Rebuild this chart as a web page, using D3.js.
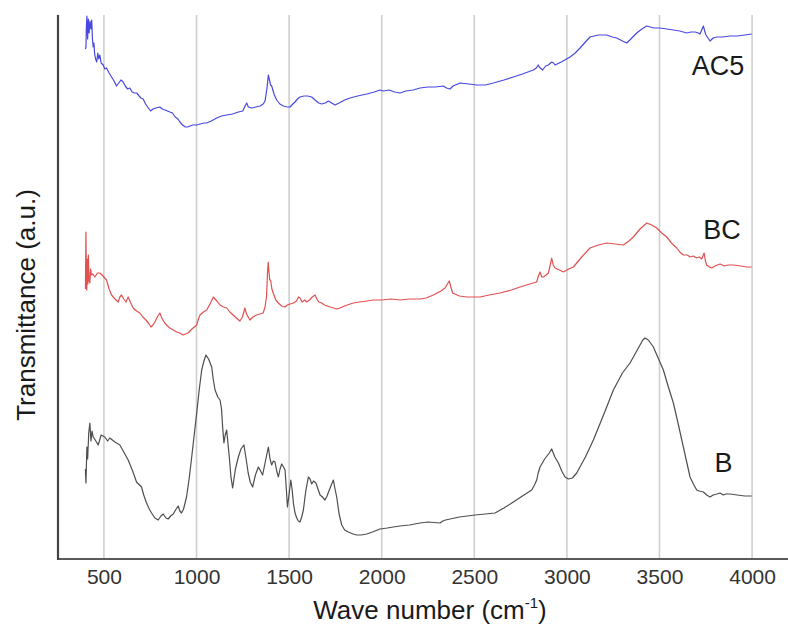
<!DOCTYPE html>
<html>
<head>
<meta charset="utf-8">
<script src="https://cdn.jsdelivr.net/npm/d3@7"></script>
<style>
  html, body { margin: 0; padding: 0; background: #ffffff; }
  svg { display: block; }
  text { font-family: "Liberation Sans", Arial, Helvetica, sans-serif; }
</style>
</head>
<body>
<svg id="chart" width="788" height="624"></svg>
<script>
// ---- data (wavenumber cm^-1, transmittance a.u.) ----
const seriesNames = ["AC5", "BC", "B"];
const seriesColors = ["#4848e0", "#e25050", "#4e4e4e"];
const tickValues = [500, 1000, 1500, 2000, 2500, 3000, 3500, 4000];

const AC5 = [[400,510],[403,512],[405,530],[408,543],[412,520],[416,540],[420,526],[425,538],[430,530],[434,539],[438,520],[442,512],[446,516],[450,505],[455,500],[461,497],[467,506],[472,500],[478,504],[485,496],[496,494],[505,490],[514,491],[528,486],[541,482],[555,478],[568,473],[580,476],[592,479],[604,477],[615,473],[628,470],[640,471],[652,467],[665,466],[677,466],[690,463],[700,461],[712,460],[725,455],[740,451],[752,448],[765,450],[780,451],[802,452],[815,450],[830,449],[843,448],[856,447],[870,446],[885,442],[900,440],[910,437],[925,434],[940,432],[952,432],[965,433],[980,434],[1001,434],[1020,435],[1040,436],[1055,436],[1080,438],[1109,441],[1135,443],[1163,444],[1195,445],[1226,447],[1250,448],[1262,453],[1271,456],[1280,452],[1298,451],[1320,452],[1343,453],[1360,455],[1370,458],[1380,470],[1388,484],[1395,478],[1400,474],[1406,473],[1420,464],[1433,459],[1450,455],[1469,453],[1490,452],[1505,452],[1520,455],[1532,457],[1545,460],[1559,462],[1580,463],[1600,463],[1622,462],[1640,459],[1660,456],[1676,455],[1695,456],[1712,458],[1730,456],[1748,454],[1770,456],[1800,459],[1829,461],[1870,463],[1919,465],[1960,467],[1991,469],[2009,468],[2040,469],[2070,467],[2099,466],[2130,468],[2170,469],[2207,471],[2250,472],[2290,472],[2333,473],[2350,471],[2369,470],[2385,473],[2423,476],[2470,475],[2513,474],[2560,474],[2603,476],[2660,479],[2711,482],[2760,485],[2819,489],[2835,491],[2845,494],[2851,492],[2869,489],[2885,493],[2900,494],[2918,497],[2928,496],[2936,494],[2970,497],[3017,502],[3045,506],[3071,511],[3100,517],[3125,522],[3170,524],[3215,524],[3245,522],[3269,521],[3300,518],[3323,516],[3340,519],[3377,526],[3405,530],[3431,533],[3470,531],[3503,531],[3540,530],[3575,529],[3610,528],[3647,526],[3670,527],[3692,527],[3710,526],[3719,525],[3730,530],[3737,533],[3744,528],[3751,524],[3762,521],[3773,518],[3790,521],[3809,522],[3840,522],[3881,523],[3920,523],[3960,524],[3998,525]];

const BC = [[400,270],[403,327],[405,285],[407,269],[410,300],[413,275],[416,304],[420,278],[424,276],[428,290],[433,284],[440,285],[451,282],[465,286],[478,286],[495,283],[514,279],[528,270],[541,264],[560,260],[577,257],[586,262],[595,264],[607,260],[619,257],[631,262],[645,256],[658,251],[676,248],[694,246],[710,242],[727,239],[740,236],[754,232],[765,234],[775,237],[788,242],[802,246],[815,240],[829,236],[843,233],[856,231],[875,229],[893,227],[910,226],[928,224],[940,225],[955,226],[975,230],[1001,234],[1010,240],[1019,244],[1037,247],[1055,249],[1073,255],[1091,262],[1110,258],[1127,254],[1145,252],[1163,251],[1180,247],[1198,244],[1215,241],[1234,238],[1248,242],[1261,251],[1270,245],[1288,239],[1305,242],[1324,244],[1342,245],[1360,246],[1370,252],[1378,262],[1383,285],[1387,297],[1391,288],[1395,279],[1400,279],[1407,270],[1414,266],[1428,259],[1442,256],[1460,253],[1478,252],[1490,254],[1505,255],[1523,256],[1540,258],[1551,262],[1559,261],[1570,257],[1585,259],[1595,257],[1610,259],[1625,262],[1640,264],[1650,260],[1660,257],[1676,256],[1690,254],[1705,253],[1721,252],[1740,251],[1758,250],[1775,251],[1800,253],[1830,255],[1847,256],[1880,257],[1920,258],[1955,259],[2000,259],[2050,260],[2100,259],[2150,260],[2207,260],[2240,261],[2279,264],[2320,268],[2342,271],[2358,276],[2365,278],[2372,273],[2383,266],[2420,263],[2459,262],[2500,262],[2531,262],[2580,264],[2639,266],[2700,269],[2747,272],[2800,275],[2837,277],[2846,283],[2855,287],[2864,282],[2873,282],[2888,284],[2900,286],[2910,294],[2918,301],[2926,294],[2936,291],[2960,289],[2981,287],[3010,290],[3035,292],[3080,302],[3125,311],[3170,314],[3215,316],[3260,315],[3305,314],[3335,318],[3359,322],[3395,330],[3431,336],[3458,334],[3485,331],[3512,326],[3539,322],[3565,316],[3593,311],[3610,307],[3629,304],[3650,304],[3665,302],[3683,303],[3700,301],[3715,302],[3728,300],[3741,306],[3748,298],[3755,294],[3770,292],[3782,291],[3800,293],[3827,295],[3850,293],[3870,294],[3899,294],[3940,293],[3970,292],[3998,292]];

const B = [[400,90],[403,76],[408,112],[412,100],[418,126],[424,136],[430,118],[436,128],[442,122],[450,120],[469,114],[485,124],[505,122],[520,118],[532,121],[559,117],[586,114],[610,106],[631,99],[655,88],[676,77],[703,72],[715,64],[730,56],[745,50],[757,46],[775,41],[793,39],[808,43],[820,45],[835,41],[847,40],[860,43],[874,45],[890,50],[901,53],[910,48],[919,46],[930,50],[946,62],[960,80],[974,102],[988,125],[1001,146],[1015,170],[1028,189],[1040,198],[1051,204],[1065,200],[1082,192],[1090,180],[1100,169],[1115,162],[1127,159],[1135,150],[1141,132],[1148,116],[1155,124],[1163,129],[1170,115],[1177,102],[1186,82],[1195,71],[1210,90],[1226,102],[1240,110],[1256,114],[1268,100],[1279,86],[1290,77],[1303,72],[1318,84],[1334,92],[1346,88],[1357,84],[1370,96],[1388,112],[1397,100],[1406,94],[1415,98],[1424,97],[1433,88],[1442,82],[1451,90],[1460,95],[1470,92],[1478,89],[1485,70],[1491,52],[1500,65],[1509,79],[1516,70],[1523,56],[1532,46],[1541,41],[1550,38],[1559,37],[1568,42],[1577,49],[1590,68],[1604,82],[1613,80],[1622,75],[1632,78],[1645,76],[1656,70],[1667,64],[1680,62],[1694,59],[1705,63],[1717,69],[1730,75],[1739,79],[1748,70],[1757,62],[1770,45],[1784,34],[1800,29],[1820,27],[1845,25],[1865,24],[1890,24],[1919,25],[1950,27],[1991,30],[2030,31],[2063,32],[2099,33],[2150,34],[2207,36],[2250,37],[2315,36],[2330,38],[2345,39],[2369,40],[2420,42],[2504,44],[2560,45],[2612,46],[2660,51],[2711,57],[2760,63],[2810,69],[2825,74],[2837,79],[2845,86],[2855,92],[2880,100],[2905,106],[2918,110],[2935,102],[2954,96],[2975,87],[2990,82],[3008,80],[3030,81],[3053,86],[3100,102],[3143,119],[3200,145],[3251,169],[3300,186],[3341,196],[3380,209],[3410,219],[3422,221],[3440,219],[3467,212],[3495,200],[3521,189],[3548,172],[3575,156],[3600,136],[3629,112],[3647,97],[3665,82],[3683,75],[3701,69],[3715,68],[3737,67],[3755,64],[3773,62],[3790,64],[3810,65],[3827,66],[3845,64],[3860,65],[3881,65],[3920,64],[3960,63],[3998,63]];

// label anchor points (wavenumber, a.u.)
const labelPos = [[3816, 484], [3838, 320], [3846, 87]];

const xTitle = "Wave number (cm";
const yTitle = "Transmittance (a.u.)";

// ---- drawing ----
const svg = d3.select("#chart");
const W = 788, H = 624;
const margin = { left: 58, right: 0, top: 15, bottom: 65 };
const x = d3.scaleLinear().domain([252, 4194]).range([margin.left, W - margin.right]);
const y = d3.scaleLinear().domain([0, 544]).range([H - margin.bottom, margin.top]);

// grid lines
svg.append("g").selectAll("line").data(tickValues).join("line")
  .attr("x1", d => x(d)).attr("x2", d => x(d))
  .attr("y1", y(544)).attr("y2", y(0))
  .attr("stroke", "#cfcfcf").attr("stroke-width", 1.6);

// bottom axis
const xAxis = d3.axisBottom(x).tickValues(tickValues).tickSize(0).tickPadding(10).tickFormat(d3.format("d"));
const gx = svg.append("g").attr("transform", `translate(0,${y(0)})`).call(xAxis);
gx.select(".domain").remove();
gx.selectAll("text").attr("font-size", 21).attr("fill", "#333")
  .attr("font-family", "'Liberation Sans', Arial, sans-serif").attr("dy", "0.71em");

// axis lines
svg.append("line").attr("x1", x(252)).attr("x2", W).attr("y1", y(0)).attr("y2", y(0))
  .attr("stroke", "#5a5a5a").attr("stroke-width", 2);
svg.append("line").attr("x1", x(252)).attr("x2", x(252)).attr("y1", y(544)).attr("y2", y(0) + 1)
  .attr("stroke", "#444").attr("stroke-width", 2.2);

// curves
const line = d3.line().x(d => x(d[0])).y(d => y(d[1]));
const allSeries = [AC5, BC, B];
svg.append("g").selectAll("path").data(allSeries).join("path")
  .attr("d", line)
  .attr("fill", "none")
  .attr("stroke", (d, i) => seriesColors[i])
  .attr("stroke-width", 1.2)
  .attr("stroke-linejoin", "round");

// series labels
svg.append("g").selectAll("text").data(seriesNames).join("text")
  .attr("x", (d, i) => x(labelPos[i][0]))
  .attr("y", (d, i) => y(labelPos[i][1]))
  .attr("text-anchor", "middle")
  .attr("font-size", 27)
  .attr("fill", "#1a1a1a")
  .text(d => d);

// x title
const xt = svg.append("text")
  .attr("x", 430).attr("y", 619)
  .attr("text-anchor", "middle")
  .attr("font-size", 26)
  .attr("fill", "#1a1a1a");
xt.append("tspan").text(xTitle);
xt.append("tspan").attr("font-size", 15).attr("dy", -11).text("-1");
xt.append("tspan").attr("dy", 11).text(")");

// y title
svg.append("text")
  .attr("transform", "translate(35,305) rotate(-90)")
  .attr("text-anchor", "middle")
  .attr("font-size", 26)
  .attr("fill", "#1a1a1a")
  .text(yTitle);
</script>
</body>
</html>
